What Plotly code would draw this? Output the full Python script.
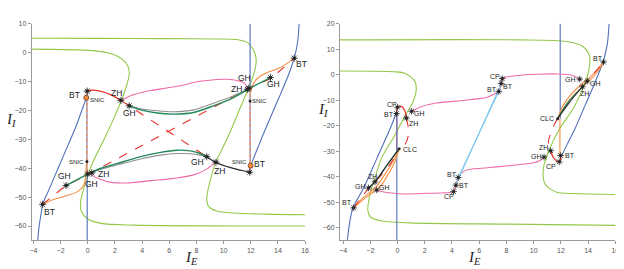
import plotly.graph_objects as go

# ================= LEFT PANEL DATA =================
L_blue1_x = [-3.68, -3.59, -3.44, -3.32, -2.91, -2.18, -1.45, -0.84, -0.40, -0.18, -0.08]
L_blue1_y = [-65, -60.5, -55.9, -52.5, -48.0, -40.0, -32.0, -25.2, -19.5, -16.7, -15.3]
L_blue2_x = [15.56, 15.49, 15.39, 15.2, 14.83, 14.23, 13.5, 12.89, 12.40, 12.11, 11.97]
L_blue2_y = [10, 5.45, 2.05, -1.9, -7.05, -13.9, -21.8, -28.6, -34.3, -37.7, -39.4]
L_bluev1_x = [-0.04, -0.04]
L_bluev1_y = [-41.5, -65]
L_bluev2_x = [11.95, 11.95]
L_bluev2_y = [10, -11.8]
L_snic1_x = [-0.06, -0.06]
L_snic1_y = [-13.3, -41.8]
L_snic2_x = [11.95, 11.95]
L_snic2_y = [-12.2, -41.4]

L_green1_x = [-4.17, 0.98, 5.84, 9.49, 10.95, 11.80, 12.21, 12.40, 12.25, 11.80, 11.19, 10.58, 9.97, 9.44, 9.0, 8.76, 8.88, 9.49, 10.7, 13.13, 16.05]
L_green1_y = [5.0, 4.95, 4.89, 4.77, 4.55, 3.41, 0.91, -2.5, -7.0, -12.7, -19.5, -26.4, -32.6, -37.7, -44.5, -50.2, -53.1, -54.8, -55.5, -55.9, -56.1]
L_green2_x = [-4.17, -0.23, 1.47, 2.44, 2.97, 3.05, 2.88, 2.49, 1.95, 1.22, 0.5, 0.06, -0.28, -0.52, -0.48, 0.0, 0.98, 3.41, 16.05]
L_green2_y = [1.25, 0.9, 0.0, -1.9, -4.8, -7.6, -11.0, -16.4, -22.4, -29.8, -36.6, -41.7, -46.8, -51.4, -54.8, -57.6, -59.1, -59.7, -60.0]

L_pink1_x = [2.44, 3.41, 4.63, 5.84, 7.06, 7.79, 8.76, 10.22, 11.07, 11.55, 11.72]
L_pink1_y = [-16.5, -14.5, -13.1, -12.2, -11.2, -10.3, -9.6, -9.2, -9.7, -10.6, -12.0]
L_pink2_x = [9.44, 8.76, 7.79, 6.33, 4.63, 2.93, 1.71, 0.86, 0.25, 0.06]
L_pink2_y = [-37.7, -40.3, -42.3, -43.5, -44.3, -45.1, -44.9, -43.75, -42.3, -41.7]

L_red_x = [-0.04, 0.25, 0.98, 1.71, 2.44]
L_red_y = [-13.3, -13.0, -13.4, -14.6, -16.5]
L_rdash1_x = [2.44, 3.05, 8.76]
L_rdash1_y = [-16.5, -18.4, -36.0]
L_rdash2_x = [-3.32, -1.69, 0.06, 11.80, 13.5, 15.2]
L_rdash2_y = [-52.5, -46.25, -42.0, -12.5, -8.9, -1.9]

L_dg1_x = [3.05, 3.90, 5.11, 6.33, 7.79, 9.24, 10.70, 11.80]
L_dg1_y = [-18.4, -19.8, -20.9, -21.25, -20.7, -18.4, -15.6, -12.7]
L_gr1_x = [3.05, 3.90, 5.11, 6.33, 7.79, 9.24, 10.70, 11.80]
L_gr1_y = [-18.3, -19.4, -20.1, -20.45, -19.8, -17.5, -15.0, -12.6]
L_dg2_x = [0.06, 0.98, 2.2, 3.9, 5.36, 6.57, 7.54, 8.27, 8.76]
L_dg2_y = [-41.9, -40.0, -38.3, -36.0, -34.5, -33.75, -34.0, -34.9, -36.0]
L_gr2_x = [0.06, 0.98, 2.2, 3.9, 5.36, 6.57, 7.54, 8.27, 8.76]
L_gr2_y = [-42.0, -40.3, -38.8, -36.8, -35.45, -34.9, -35.0, -35.45, -36.0]
L_dg3_x = [11.80, 13.45]
L_dg3_y = [-12.6, -8.6]
L_dg4_x = [-1.6, 0.06]
L_dg4_y = [-46.0, -41.9]
L_blk_x = [8.76, 9.44, 10.46, 11.43, 11.92]
L_blk_y = [-36.0, -38.0, -39.7, -40.9, -41.4]

L_or1_x = [-3.32, -2.66, -1.69, -0.72, -0.28, -0.16, -0.11]
L_or1_y = [-52.5, -51.1, -49.7, -48.0, -45.7, -42.8, -38.9]
L_or2_x = [15.1, 14.1, 13.13, 12.52, 12.16, 11.97]
L_or2_y = [-2.3, -5.3, -7.05, -8.75, -11.0, -13.9]

L_star_x = [-3.32, -0.04, 2.44, 3.05, -1.6, 0.0, 0.3, 8.76, 9.44, 11.92, 11.75, 11.85, 13.45, 15.2]
L_star_y = [-52.5, -13.3, -16.5, -18.4, -46.0, -42.0, -41.6, -36.0, -37.9, -41.4, -12.7, -12.3, -8.6, -1.9]
L_orc_x = [-0.11, 11.99]
L_orc_y = [-15.6, -39.1]
L_dot_x = [-0.06, -0.06, 11.95]
L_dot_y = [-37.7, -15.6, -16.7]

L_lab = [("BT", -2.8, -55.2, 8.5), ("BT", -0.95, -14.6, 8.5), ("SNIC", 0.7, -16.4, 6),
         ("ZH", 2.15, -13.8, 8.5), ("GH", 3.05, -21.0, 8.5), ("SNIC", -0.85, -37.7, 6),
         ("GH", -1.7, -42.6, 8.5), ("ZH", 1.15, -42.0, 8.5), ("GH", 0.25, -45.6, 8.5),
         ("GH", 8.05, -37.9, 8.5), ("ZH", 9.7, -40.8, 8.5), ("SNIC", 11.2, -37.9, 6),
         ("BT", 12.65, -38.6, 8.5), ("GH", 11.55, -8.7, 8.5), ("ZH", 10.95, -12.7, 8.5),
         ("GH", 13.65, -11.0, 8.5), ("SNIC", 12.65, -16.7, 6), ("BT", 15.75, -4.0, 8.5)]

# ================= RIGHT PANEL DATA =================
R_blue1_x = [-3.68, -3.56, -3.39, -3.25, -2.47, -1.50, -0.53, -0.10]
R_blue1_y = [-64.75, -59.6, -54.5, -51.9, -44.2, -32.6, -21.0, -15.2]
R_blue2_x = [15.54, 15.42, 15.22, 15.10, 14.5, 13.77, 13.04, 12.44, 12.07]
R_blue2_y = [19.9, 12.4, 7.3, 5.0, -3.1, -12.1, -21.1, -27.5, -31.6]
R_bluev1_x = [-0.05, -0.05]
R_bluev1_y = [-15.2, -65]
R_bluev2_x = [11.95, 11.95]
R_bluev2_y = [20, -17.2]
R_purp_x = [-0.05, -0.05]
R_purp_y = [-15.2, -29.4]

R_green1_x = [-4.22, 8.78, 12.41, 13.62, 14.11, 14.06, 13.75, 13.38, 12.9, 11.93, 11.2, 10.72, 10.84, 11.68, 13.04, 16.12]
R_green1_y = [13.7, 13.7, 13.05, 11.1, 7.3, 2.1, -3.7, -8.2, -13.3, -21.0, -28.7, -36.5, -42.9, -46.1, -46.6, -47.0]
R_green2_x = [-4.32, -0.29, 0.53, 1.26, 1.38, 1.14, 0.65, -0.19, -1.16, -1.65, -2.01, -2.18, -1.99, -1.26, 0.92, 8.19, 16.07]
R_green2_y = [1.48, 1.2, 0.6, -2.4, -5.6, -10.7, -15.2, -23.6, -32.6, -40.3, -46.75, -53.2, -55.8, -57.3, -58.1, -58.6, -59.1]

R_pink1_x = [1.04, 1.65, 2.96, 4.56, 5.38, 6.59, 7.32, 7.44, 7.61, 7.69, 8.53, 10.23, 11.83, 12.8, 13.38]
R_pink1_y = [-14.3, -12.7, -11.0, -10.2, -9.7, -8.8, -6.9, -6.6, -3.4, -1.5, -0.45, 0.2, 0.3, -0.2, -1.7]
R_pink2_x = [-1.53, -0.92, 0.53, 2.23, 3.5, 4.12, 4.29, 4.46, 4.9, 5.6, 6.59, 8.3, 9.99, 10.5, 10.76]
R_pink2_y = [-45.2, -46.1, -46.75, -46.5, -46.3, -45.85, -43.3, -40.3, -37.7, -36.9, -36.5, -35.6, -34.5, -33.5, -32.3]

R_cyan_x0 = [4.46, 4.40, 4.34, 4.28]
R_cyan_y0 = [-40.3, -41.3, -42.3, -43.3]
R_cyan_x1 = [7.44, 7.50, 7.56, 7.62]
R_cyan_y1 = [-6.6, -5.6, -4.5, -3.4]

R_red1_x = [-0.07, 0.0, 0.29, 0.53, 0.65]
R_red1_y = [-15.2, -12.7, -12.4, -14.0, -17.0]
R_rdash1_x = [0.65, 0.78, 0.78, 0.53, 0.12]
R_rdash1_y = [-17.0, -20.4, -24.2, -27.5, -29.0]
R_or1_x = [-3.22, -2.62, -1.89, -1.41, -0.92, -0.32, 0.12]
R_or1_y = [-52.2, -48.7, -45.5, -42.9, -39.0, -33.9, -29.0]
R_or2_x = [-3.22, -2.5, -1.75, -1.2, -0.75, -0.2, 0.12]
R_or2_y = [-52.2, -48.9, -45.9, -43.4, -39.6, -34.2, -29.0]
R_rdash2_x = [-3.22, -2.6, -1.95, -1.4, -0.6, 0.12]
R_rdash2_y = [-52.2, -47.6, -43.7, -40.6, -35.5, -29.0]
R_dg1_x = [-2.13, -1.65, -0.8, 0.12]
R_dg1_y = [-44.4, -42.0, -35.6, -29.0]
R_blk1_x = [-2.13, -1.65, -0.7, 0.12]
R_blk1_y = [-44.4, -42.0, -35.0, -29.0]

R_or3_x = [11.76, 12.17, 12.78, 13.38, 14.11, 14.72, 15.13]
R_or3_y = [-17.2, -12.0, -7.5, -4.3, -1.1, 2.1, 5.0]
R_or4_x = [11.76, 12.3, 12.9, 13.5, 14.2, 14.8, 15.13]
R_or4_y = [-17.2, -12.6, -8.3, -5.2, -1.7, 1.9, 5.0]
R_rdash3_x = [13.58, 14.4, 15.13]
R_rdash3_y = [-4.7, 0.3, 5.0]
R_dg2_x = [11.76, 12.5, 13.58, 13.94]
R_dg2_y = [-17.2, -10.8, -4.7, -2.4]
R_blk2_x = [11.76, 12.6, 13.58]
R_blk2_y = [-17.2, -11.0, -4.7]
R_rdash4_x = [11.76, 11.56, 11.25, 11.08, 11.25]
R_rdash4_y = [-17.2, -19.1, -23.0, -26.2, -29.8]
R_red2_x = [11.25, 11.44, 11.73, 11.88, 11.98, 11.98]
R_red2_y = [-29.8, -32.35, -33.9, -34.15, -33.3, -31.7]
R_orv_x = [11.93, 11.93]
R_orv_y = [-17.2, -31.7]

R_star_x = [15.13, 13.38, 13.94, 13.58, 11.25, 10.76, 11.98, 11.88, 7.69, 7.61, 7.44, 4.46, 4.29, 4.12, 0.0, -0.07, 1.04, 0.65, -1.65, -2.13, -1.53, -3.22]
R_star_y = [5.0, -1.7, -2.4, -4.7, -29.8, -32.3, -31.7, -34.15, -1.5, -3.4, -6.6, -40.3, -43.3, -45.85, -12.7, -15.2, -14.3, -17.0, -42.0, -44.4, -45.2, -52.2]
R_dot_x = [11.76, 0.12]
R_dot_y = [-17.2, -29.0]

R_lab = [("BT", 14.69, 6.3), ("GH", 12.73, -2.0), ("GH", 14.55, -3.4), ("ZH", 13.72, -7.5),
         ("CLC", 10.98, -17.2), ("ZH", 10.74, -28.5), ("GH", 10.2, -32.0), ("BT", 12.68, -31.7),
         ("CP", 11.3, -35.8), ("CP", 7.18, -0.7), ("BT", 8.12, -4.7), ("BT", 6.93, -5.6),
         ("BT", 4.02, -39.0), ("BT", 4.85, -43.5), ("CP", 3.78, -47.8), ("CP", -0.44, -11.8),
         ("BT", -0.6, -15.5), ("GH", 1.65, -15.2), ("ZH", 1.16, -19.1), ("CLC", 0.92, -29.4),
         ("ZH", -1.84, -39.9), ("GH", -2.72, -43.9), ("GH", -0.97, -44.2), ("BT", -3.68, -50.2)]

X_TICKS = [-4, -2, 0, 2, 4, 6, 8, 10, 12, 14, 16]
L_Y_TICKS = [10, 0, -10, -20, -30, -40, -50, -60]
R_Y_TICKS = [20, 10, 0, -10, -20, -30, -40, -50, -60]

# ================= STYLE =================
BLUE = "#4f6fb8"
LGREEN = "#93c94a"
PINK = "#ee6aa7"
RED = "#e8352b"
ORANGE = "#f58d42"
DGREEN = "#23875a"
GREY = "#8f8f8f"
BLACK = "#262626"
CYAN = "#86cdf0"
PURP = "#8a6a9a"

# page body has an 8px default margin: figure is sized/positioned to compensate
OFF = 8
FW, FH = 624 - OFF, 269 - OFF


def px(xp):
    return (xp - OFF) / FW


def py(yp):
    return (269 - yp) / FH


fig = go.Figure()


def line(x, y, color, ax, width=1.1, dash="solid", spline=True):
    fig.add_trace(go.Scatter(
        x=x, y=y, mode="lines", xaxis=ax[0], yaxis=ax[1],
        line=dict(color=color, width=width, dash=dash,
                  shape="spline" if spline else "linear", smoothing=0.8),
        hoverinfo="skip", showlegend=False))


def stars(x, y, ax, size=6):
    fig.add_trace(go.Scatter(x=x, y=y, mode="markers", xaxis=ax[0], yaxis=ax[1],
                             marker=dict(symbol="circle", size=size - 2.5, color=BLACK),
                             hoverinfo="skip", showlegend=False))
    fig.add_trace(go.Scatter(x=x, y=y, mode="markers", xaxis=ax[0], yaxis=ax[1],
                             marker=dict(symbol="asterisk-open", size=size, color=BLACK,
                                         line=dict(color=BLACK, width=0.8)),
                             hoverinfo="skip", showlegend=False))


A1 = ("x", "y")
A2 = ("x2", "y2")

# ---- left panel ----
line(L_green1_x, L_green1_y, LGREEN, A1)
line(L_green2_x, L_green2_y, LGREEN, A1)
line(L_blue1_x, L_blue1_y, BLUE, A1)
line(L_blue2_x, L_blue2_y, BLUE, A1)
line(L_bluev1_x, L_bluev1_y, BLUE, A1, spline=False)
line(L_bluev2_x, L_bluev2_y, BLUE, A1, spline=False)
line(L_snic1_x, L_snic1_y, PURP, A1, spline=False)
line(L_snic2_x, L_snic2_y, PURP, A1, spline=False)
line(L_snic1_x, L_snic1_y, ORANGE, A1, dash="dot", spline=False)
line(L_snic2_x, L_snic2_y, ORANGE, A1, dash="dot", spline=False)
line(L_pink1_x, L_pink1_y, PINK, A1)
line(L_pink2_x, L_pink2_y, PINK, A1)
line(L_or1_x, L_or1_y, ORANGE, A1)
line(L_or2_x, L_or2_y, ORANGE, A1)
line(L_rdash1_x, L_rdash1_y, RED, A1, dash="dash", spline=False)
line(L_rdash2_x, L_rdash2_y, RED, A1, dash="dash", spline=False)
line(L_gr1_x, L_gr1_y, GREY, A1)
line(L_gr2_x, L_gr2_y, GREY, A1)
line(L_dg1_x, L_dg1_y, DGREEN, A1, width=1.4)
line(L_dg2_x, L_dg2_y, DGREEN, A1, width=1.4)
line(L_dg3_x, L_dg3_y, DGREEN, A1, width=1.4, spline=False)
line(L_dg4_x, L_dg4_y, DGREEN, A1, width=1.4, spline=False)
line(L_blk_x, L_blk_y, BLACK, A1)
line(L_red_x, L_red_y, RED, A1, width=1.3)
fig.add_trace(go.Scatter(x=L_dot_x, y=L_dot_y, mode="markers", xaxis="x", yaxis="y",
                         marker=dict(size=3, color=BLACK), hoverinfo="skip", showlegend=False))
fig.add_trace(go.Scatter(x=L_orc_x, y=L_orc_y, mode="markers", xaxis="x", yaxis="y",
                         marker=dict(size=5, color=ORANGE, line=dict(color="#7a3a10", width=0.8)),
                         hoverinfo="skip", showlegend=False))
stars(L_star_x, L_star_y, A1, size=6)

# ---- right panel ----
line(R_green1_x, R_green1_y, LGREEN, A2)
line(R_green2_x, R_green2_y, LGREEN, A2)
line(R_blue1_x, R_blue1_y, BLUE, A2)
line(R_blue2_x, R_blue2_y, BLUE, A2)
line(R_bluev1_x, R_bluev1_y, BLUE, A2, spline=False)
line(R_bluev2_x, R_bluev2_y, BLUE, A2, spline=False)
line(R_purp_x, R_purp_y, PURP, A2, spline=False)
line(R_pink1_x, R_pink1_y, PINK, A2)
line(R_pink2_x, R_pink2_y, PINK, A2)
for i in range(len(R_cyan_x0)):
    line([R_cyan_x0[i], R_cyan_x1[i]], [R_cyan_y0[i], R_cyan_y1[i]], CYAN, A2, width=1, spline=False)
line(R_or1_x, R_or1_y, ORANGE, A2)
line(R_or2_x, R_or2_y, ORANGE, A2)
line(R_or3_x, R_or3_y, ORANGE, A2)
line(R_or4_x, R_or4_y, ORANGE, A2)
line(R_orv_x, R_orv_y, ORANGE, A2, spline=False)
line(R_rdash2_x, R_rdash2_y, RED, A2, dash="dash")
line(R_rdash3_x, R_rdash3_y, RED, A2, dash="dash", spline=False)
line(R_dg1_x, R_dg1_y, DGREEN, A2)
line(R_blk1_x, R_blk1_y, BLACK, A2)
line(R_dg2_x, R_dg2_y, DGREEN, A2)
line(R_blk2_x, R_blk2_y, BLACK, A2)
line(R_red1_x, R_red1_y, RED, A2, width=1.3)
line(R_rdash1_x, R_rdash1_y, RED, A2, dash="dash")
line(R_rdash4_x, R_rdash4_y, RED, A2, dash="dash")
line(R_red2_x, R_red2_y, RED, A2, width=1.3)
fig.add_trace(go.Scatter(x=R_dot_x, y=R_dot_y, mode="markers", xaxis="x2", yaxis="y2",
                         marker=dict(size=3, color=BLACK), hoverinfo="skip", showlegend=False))
stars(R_star_x, R_star_y, A2, size=5.5)

ann = []
for t, x, y, s in L_lab:
    ann.append(dict(x=x, y=y, xref="x", yref="y", text=t, showarrow=False,
                    font=dict(size=s, color="#222", family="Liberation Sans")))
for t, x, y in R_lab:
    ann.append(dict(x=x, y=y, xref="x2", yref="y2", text=t, showarrow=False,
                    font=dict(size=7, color="#222", family="Liberation Sans")))

lab_font = dict(size=15, color="#222", family="Liberation Serif")
ann += [
    dict(x=px(2), y=py(118), xref="paper", yref="paper", showarrow=False,
         xanchor="left", text="<i>I</i><sub><i>I</i></sub>", font=lab_font),
    dict(x=px(317), y=py(108), xref="paper", yref="paper", showarrow=False,
         xanchor="left", text="<i>I</i><sub><i>I</i></sub>", font=lab_font),
    dict(x=px(183), y=py(247), xref="paper", yref="paper", showarrow=False,
         yanchor="top", text="<i>I</i><sub><i>E</i></sub>", font=lab_font),
    dict(x=px(486), y=py(247), xref="paper", yref="paper", showarrow=False,
         yanchor="top", text="<i>I</i><sub><i>E</i></sub>", font=lab_font),
]

axis_common = dict(showgrid=False, zeroline=False, showline=True, linecolor="#9a9a9a",
                   linewidth=1, ticks="outside", ticklen=3, tickcolor="#9a9a9a",
                   tickfont=dict(size=7, color="#555", family="Liberation Sans"))

ydom = [py(240), py(20)]
fig.update_layout(
    width=FW, height=FH, margin=dict(l=0, r=0, t=0, b=0),
    paper_bgcolor="white", plot_bgcolor="white", showlegend=False,
    xaxis=dict(domain=[px(30), px(306)], range=[-4.12, 16.0], tickvals=X_TICKS, anchor="y", **axis_common),
    yaxis=dict(domain=ydom, range=[-65, 10], tickvals=L_Y_TICKS, anchor="x", **axis_common),
    xaxis2=dict(domain=[px(341.3), px(619.3)], range=[-4.22, 16.0], tickvals=X_TICKS, anchor="y2", **axis_common),
    yaxis2=dict(domain=ydom, range=[-65, 20], tickvals=R_Y_TICKS, anchor="x2", **axis_common),
    annotations=ann,
)

fig.write_html("out.html")
